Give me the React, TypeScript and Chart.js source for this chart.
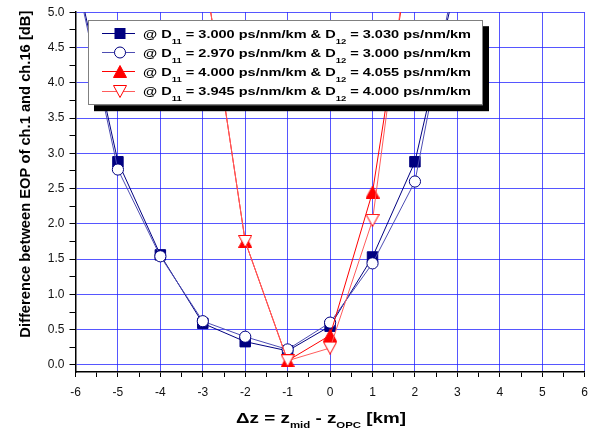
import React, { useEffect, useRef } from 'react';
import { Chart, registerables } from 'chart.js';

Chart.register(...registerables);

// ---- data ----
const blueX = [-6, -5, -4, -3, -2, -1, 0, 1, 2, 3];
const seriesSquare = [5.6, 2.88, 1.56, 0.59, 0.33, 0.2, 0.55, 1.53, 2.88, 5.5];
const seriesCircle = [5.55, 2.77, 1.54, 0.62, 0.4, 0.22, 0.6, 1.44, 2.6, 5.7];
const redX = [-3, -2, -1, 0, 1, 2];
const seriesTriUp = [5.75, 1.75, 0.06, 0.42, 2.45, 6.3];
const seriesTriDown = [5.75, 1.75, 0.06, 0.24, 2.05, 6.6];
const d11Values = ['3.000', '2.970', '4.000', '3.945'];
const d12Values = ['3.030', '3.000', '4.055', '4.000'];
const xRange = [-6, 6];
const yRange = [-0.1, 5];
const yTitle = 'Difference between EOP of ch.1 and ch.16 [dB]';

const NAVY = '#000080';
const NAVY_LINE2 = '#4d4db3';
const RED = '#ff0000';
const RED_LINE2 = '#ff5c5c';
const GRID = 'rgba(30,30,255,0.75)';
const FONT = 'Arial, "Liberation Sans", sans-serif';

function makeTriangle(up: boolean, fill: string, stroke: string) {
  const c = document.createElement('canvas');
  c.width = 14;
  c.height = 13;
  const g = c.getContext('2d')!;
  g.beginPath();
  if (up) {
    g.moveTo(7, 0.5);
    g.lineTo(13.5, 12.5);
    g.lineTo(0.5, 12.5);
  } else {
    g.moveTo(0.5, 0.5);
    g.lineTo(13.5, 0.5);
    g.lineTo(7, 12.5);
  }
  g.closePath();
  g.fillStyle = fill;
  g.fill();
  g.strokeStyle = stroke;
  g.lineWidth = 1;
  g.stroke();
  return c;
}

type Run = { t: string; sub?: boolean };

function drawRuns(
  ctx: CanvasRenderingContext2D,
  runs: Run[],
  x: number,
  y: number,
  mainFont: string,
  subFont: string,
  subDy: number,
  targetW: number,
  align: 'left' | 'center'
) {
  let w = 0;
  const widths: number[] = [];
  for (const r of runs) {
    ctx.font = r.sub ? subFont : mainFont;
    const m = ctx.measureText(r.t).width;
    widths.push(m);
    w += m;
  }
  const sx = targetW > 0 ? targetW / w : 1;
  ctx.save();
  ctx.translate(x, y);
  ctx.scale(sx, 1);
  ctx.textAlign = 'left';
  ctx.textBaseline = 'alphabetic';
  let cx = align === 'center' ? -w / 2 : 0;
  runs.forEach((r, i) => {
    ctx.font = r.sub ? subFont : mainFont;
    ctx.fillText(r.t, cx, r.sub ? subDy : 0);
    cx += widths[i];
  });
  ctx.restore();
}

const isMult = (v: number, step: number) => Math.abs(v / step - Math.round(v / step)) < 1e-6;

export default function App() {
  const ref = useRef<HTMLCanvasElement>(null);

  useEffect(() => {
    if (!ref.current) return;
    const triUp = makeTriangle(true, RED, RED);
    const triDown = makeTriangle(false, '#ffffff', RED);

    const legendStyles = [
      { line: NAVY, marker: 'square' },
      { line: NAVY_LINE2, marker: 'circle' },
      { line: RED, marker: 'triUp' },
      { line: RED_LINE2, marker: 'triDown' },
    ];

    const overlay = {
      id: 'overlay',
      afterDraw(chart: any) {
        const ctx: CanvasRenderingContext2D = chart.ctx;
        const a = chart.chartArea;
        ctx.save();
        // legend box
        const bx = a.left + 12.5;
        const by = a.top + 8;
        const bw = 395;
        const bh = 85;
        ctx.fillStyle = '#000';
        ctx.fillRect(bx + 6, by + 6, bw, bh);
        ctx.fillStyle = '#fff';
        ctx.fillRect(bx, by, bw, bh);
        ctx.strokeStyle = '#808080';
        ctx.lineWidth = 1;
        ctx.strokeRect(Math.round(bx) + 0.5, Math.round(by) + 0.5, bw - 1, bh - 1);

        d11Values.forEach((d11, i) => {
          const base = by + 17.3 + i * 19.1;
          const cy = base - 4.3;
          const st = legendStyles[i];
          ctx.strokeStyle = st.line;
          ctx.lineWidth = 1;
          ctx.beginPath();
          ctx.moveTo(bx + 14, Math.round(cy) + 0.5);
          ctx.lineTo(bx + 47, Math.round(cy) + 0.5);
          ctx.stroke();
          const mx = bx + 32;
          const my = Math.round(cy) + 0.5;
          if (st.marker === 'square') {
            ctx.fillStyle = NAVY;
            ctx.fillRect(mx - 5.5, my - 5.5, 11, 11);
          } else if (st.marker === 'circle') {
            ctx.beginPath();
            ctx.arc(mx, my, 5.5, 0, Math.PI * 2);
            ctx.fillStyle = '#fff';
            ctx.fill();
            ctx.strokeStyle = NAVY;
            ctx.stroke();
          } else {
            ctx.drawImage(st.marker === 'triUp' ? triUp : triDown, mx - 7, my - 6.5);
          }
          ctx.fillStyle = '#000';
          drawRuns(
            ctx,
            [
              { t: '@ D' },
              { t: '11', sub: true },
              { t: ' = ' + d11 + ' ps/nm/km & D' },
              { t: '12', sub: true },
              { t: ' = ' + d12Values[i] + ' ps/nm/km' },
            ],
            bx + 55,
            base,
            'bold 11.5px ' + FONT,
            'bold 7.5px ' + FONT,
            6.5,
            328,
            'left'
          );
        });

        // x axis title
        ctx.fillStyle = '#000';
        drawRuns(
          ctx,
          [
            { t: '\u0394z = z' },
            { t: 'mid', sub: true },
            { t: ' - z' },
            { t: 'OPC', sub: true },
            { t: ' [km]' },
          ],
          (a.left + a.right) / 2 - 9,
          423,
          'bold 14px ' + FONT,
          'bold 8.5px ' + FONT,
          5,
          170,
          'center'
        );

        // y axis title
        ctx.save();
        ctx.translate(30, a.top + 162);
        ctx.rotate(-Math.PI / 2);
        ctx.font = 'bold 15px ' + FONT;
        const tw = ctx.measureText(yTitle).width;
        ctx.scale(327 / tw, 1);
        ctx.textAlign = 'center';
        ctx.textBaseline = 'alphabetic';
        ctx.fillText(yTitle, 0, 0);
        ctx.restore();

        ctx.restore();
      },
    };

    const chart = new Chart(ref.current, {
      type: 'line',
      data: {
        datasets: [
          {
            label: 'D11 = 3.000, D12 = 3.030',
            data: blueX.map((x, i) => ({ x, y: seriesSquare[i] })),
            borderColor: NAVY,
            borderWidth: 1,
            pointStyle: 'rect',
            pointRadius: 7.4,
            pointBackgroundColor: NAVY,
            pointBorderColor: NAVY,
            pointBorderWidth: 1,
            order: 4,
          },
          {
            label: 'D11 = 2.970, D12 = 3.000',
            data: blueX.map((x, i) => ({ x, y: seriesCircle[i] })),
            borderColor: NAVY_LINE2,
            borderWidth: 1,
            pointStyle: 'circle',
            pointRadius: 5.6,
            pointBackgroundColor: '#ffffff',
            pointBorderColor: NAVY,
            pointBorderWidth: 1,
            order: 3,
          },
          {
            label: 'D11 = 4.000, D12 = 4.055',
            data: redX.map((x, i) => ({ x, y: seriesTriUp[i] })),
            borderColor: RED,
            borderWidth: 1,
            pointStyle: triUp as any,
            order: 2,
          },
          {
            label: 'D11 = 3.945, D12 = 4.000',
            data: redX.map((x, i) => ({ x, y: seriesTriDown[i] })),
            borderColor: RED_LINE2,
            borderWidth: 1,
            pointStyle: triDown as any,
            order: 1,
          },
        ],
      },
      options: {
        animation: false,
        responsive: false,
        devicePixelRatio: 1,
        layout: { padding: { left: 0, right: 9, top: 12, bottom: 0 } },
        plugins: { legend: { display: false }, tooltip: { enabled: false } },
        elements: { line: { tension: 0 } },
        scales: {
          x: {
            type: 'linear',
            min: xRange[0],
            max: xRange[1],
            ticks: {
              stepSize: 0.5,
              autoSkip: false,
              maxRotation: 0,
              includeBounds: false,
              padding: 8,
              color: '#111',
              font: { family: FONT, size: 12 },
              callback: (v: any) => (isMult(Number(v), 1) ? String(Math.round(Number(v))) : ''),
            },
            grid: {
              color: (c: any) => (c.tick && isMult(c.tick.value, 1) ? GRID : 'rgba(0,0,0,0)'),
              tickColor: '#000',
              tickLength: 5,
              lineWidth: 1,
            },
            border: { color: '#000', width: 1.5 },
            afterFit: (s: any) => {
              s.height = 64;
            },
          },
          y: {
            type: 'linear',
            min: yRange[0],
            max: yRange[1],
            ticks: {
              stepSize: 0.25,
              autoSkip: false,
              includeBounds: false,
              padding: 5,
              color: '#111',
              font: { family: FONT, size: 12 },
              callback: (v: any) => (isMult(Number(v), 0.5) ? Number(v).toFixed(1) : ''),
            },
            grid: {
              color: (c: any) => (c.tick && isMult(c.tick.value, 0.5) ? GRID : 'rgba(0,0,0,0)'),
              tickColor: '#000',
              tickLength: 6,
              lineWidth: 1,
            },
            border: { color: '#000', width: 1.5 },
            afterFit: (s: any) => {
              s.width = 75.5;
            },
          },
        },
      } as any,
      plugins: [overlay],
    });
    return () => chart.destroy();
  }, []);

  return (
    <div style={{ position: 'absolute', left: 0, top: 0, width: 596, height: 436, background: '#fff' }}>
      <canvas ref={ref} width={596} height={436} style={{ width: 596, height: 436, display: 'block' }} />
    </div>
  );
}
